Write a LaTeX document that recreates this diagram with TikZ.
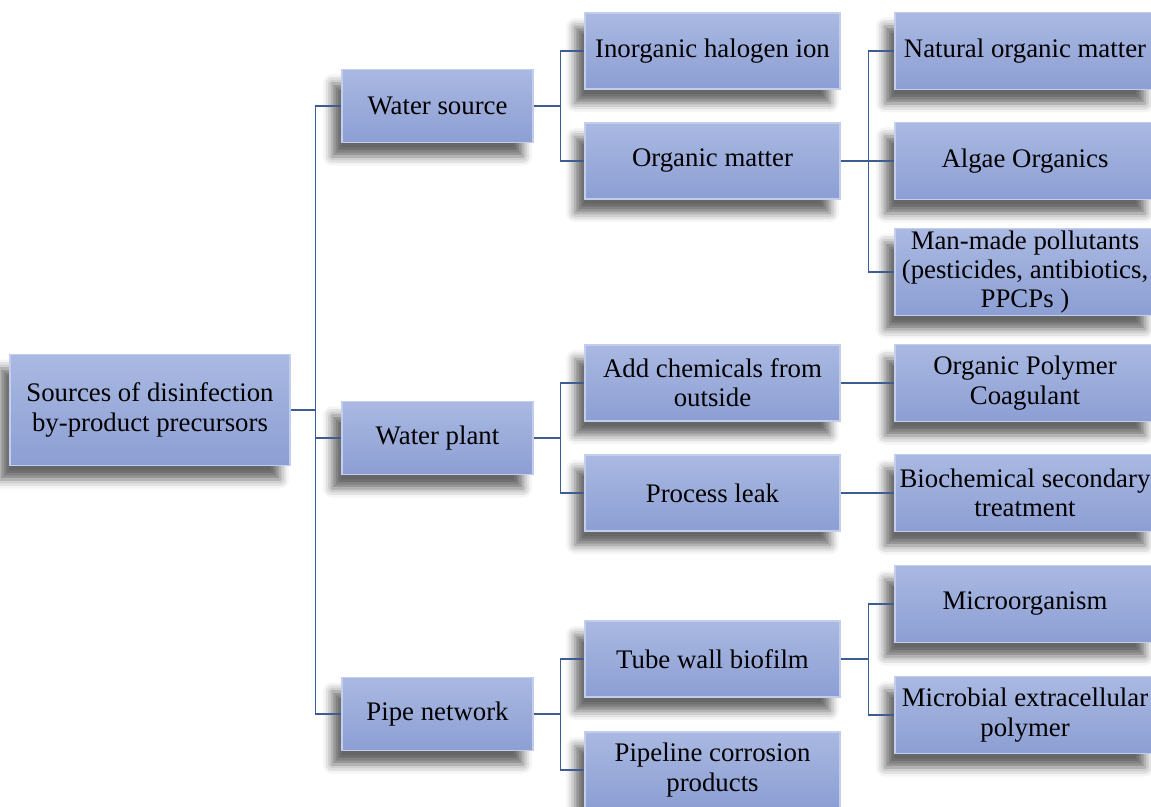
\documentclass[tikz,border=0pt]{standalone}
\usepackage{fontspec}
\setmainfont{Liberation Serif}
\usetikzlibrary{shadows.blur}
\definecolor{boxtop}{HTML}{AAB9E2}
\definecolor{boxbot}{HTML}{8C9ED3}
\definecolor{boxedge}{HTML}{C3CDEC}
\definecolor{linkcol}{HTML}{3E5C94}
\tikzset{
  srcbox/.style={rectangle, top color=boxtop, bottom color=boxbot, draw=boxedge, line width=0.6pt,
    align=center, inner sep=1pt, font=\fontsize{13.4}{14.6}\selectfont,
    blur shadow={shadow xshift=-5pt, shadow yshift=-7pt, shadow blur radius=4.5pt, shadow opacity=60}},
  link/.style={draw=linkcol, line width=0.6pt}
}
\begin{document}
\begin{tikzpicture}[x=0.5pt,y=-0.5pt]
	\useasboundingbox (0,0) rectangle (1151,807);

	%root
	\node[srcbox, minimum width=140pt, minimum height=55.5pt] (root) at (150,410) {Sources of disinfection\\by-product precursors};

	%first level
	\node[srcbox, minimum width=95.5pt, minimum height=36.5pt] (ws) at (437.5,106) {Water source};
	\node[srcbox, minimum width=95.5pt, minimum height=36.5pt] (wp) at (437.5,438) {Water plant};
	\node[srcbox, minimum width=95.5pt, minimum height=36.5pt] (pn) at (437.5,714) {Pipe network};

	%second level
	\node[srcbox, minimum width=127.5pt, minimum height=38pt] (ihi) at (712.5,51) {Inorganic halogen ion};
	\node[srcbox, minimum width=127.5pt, minimum height=38pt] (om) at (712.5,161) {Organic matter};
	\node[srcbox, minimum width=127.5pt, minimum height=38pt] (acf) at (712.5,383) {Add chemicals from\\outside};
	\node[srcbox, minimum width=127.5pt, minimum height=38pt] (pl) at (712.5,493) {Process leak};
	\node[srcbox, minimum width=127.5pt, minimum height=38pt] (twb) at (712.5,659) {Tube wall biofilm};
	\node[srcbox, minimum width=127.5pt, minimum height=38pt] (pcp) at (712.5,770) {Pipeline corrosion\\products};

	%third level
	\node[srcbox, minimum width=130pt, minimum height=38.5pt] (nom) at (1025,51) {Natural organic matter};
	\node[srcbox, minimum width=130pt, minimum height=38.5pt] (ao) at (1025,161) {Algae Organics};
	\node[srcbox, minimum width=130pt, minimum height=40pt] (mmp) at (1025,272) {Man-made pollutants\\(pesticides, antibiotics,\\PPCPs )};
	\node[srcbox, minimum width=130pt, minimum height=38.5pt] (opc) at (1025,383) {Organic Polymer\\Coagulant};
	\node[srcbox, minimum width=130pt, minimum height=38.5pt] (bst) at (1025,493) {Biochemical secondary\\treatment};
	\node[srcbox, minimum width=130pt, minimum height=38.5pt] (mo) at (1025,604) {Microorganism};
	\node[srcbox, minimum width=130pt, minimum height=38.5pt] (mep) at (1025,715) {Microbial extracellular\\polymer};

	%links root -> first level
	\draw[link] (ws.west) -- ++(-26,0) |- (root.east);
	\draw[link] (pn.west) -- ++(-26,0) |- (root.east);
	\draw[link] (wp.west) -- ++(-26,0);

	%links first -> second level
	\draw[link] (ws.east) -- ++(27,0) |- (ihi.west);
	\draw[link] (ws.east) -- ++(27,0) |- (om.west);
	\draw[link] (wp.east) -- ++(27,0) |- (acf.west);
	\draw[link] (wp.east) -- ++(27,0) |- (pl.west);
	\draw[link] (pn.east) -- ++(27,0) |- (twb.west);
	\draw[link] (pn.east) -- ++(27,0) |- (pcp.west);

	%links second -> third level
	\draw[link] (om.east) -- ++(28,0) |- (nom.west);
	\draw[link] (om.east) -- (ao.west);
	\draw[link] (om.east) -- ++(28,0) |- (mmp.west);
	\draw[link] (acf.east) -- (opc.west);
	\draw[link] (pl.east) -- (bst.west);
	\draw[link] (twb.east) -- ++(28,0) |- (mo.west);
	\draw[link] (twb.east) -- ++(28,0) |- (mep.west);

\end{tikzpicture}
\end{document}
